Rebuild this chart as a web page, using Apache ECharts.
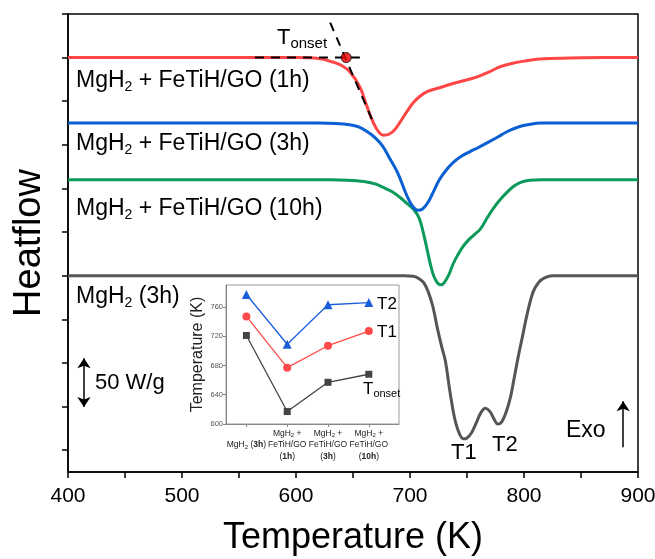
<!DOCTYPE html>
<html>
<head>
<meta charset="utf-8">
<script src="https://cdn.jsdelivr.net/npm/echarts@6/dist/echarts.min.js"></script>
<style>
html, body { margin: 0; padding: 0; background: #fff; }
#chart { width: 655px; height: 559px; }
</style>
</head>
<body>
<div id="chart"></div>
<script>
// DSC traces: [temperature (K), stacked heat flow]
const curve1h = [[400,10],[600,10],[620,9.98],[632,9.9],[640,9.82],[647,9.68],[656,9.33],[662,8.9],[668,8.5],[673,8.28],[677,8.22],[682,8.25],[687,8.36],[691,8.51],[697,8.75],[703,8.97],[709,9.12],[715,9.22],[726,9.31],[741,9.43],[759,9.56],[770,9.68],[779,9.79],[790,9.87],[800,9.92],[814,9.97],[840,9.99],[870,10],[900,10]];
const curve3h = [[400,8.5],[620,8.5],[635,8.49],[647,8.46],[655,8.41],[662,8.31],[670,8.15],[676,7.97],[682,7.7],[689,7.37],[697,6.85],[702,6.6],[707,6.5],[711,6.53],[716,6.69],[721,6.95],[726,7.21],[732,7.43],[738,7.6],[745,7.74],[753,7.85],[760,7.94],[768,8.05],[777,8.18],[785,8.3],[795,8.41],[803,8.46],[815,8.5],[900,8.5]];
const curve10h = [[400,7.2],[630,7.2],[645,7.19],[655,7.17],[662,7.15],[670,7.1],[676,7.03],[684,6.93],[691,6.8],[698,6.64],[703,6.53],[708,6.32],[712,5.95],[715,5.6],[718,5.25],[721,4.98],[724,4.84],[727,4.79],[730,4.84],[734,5.02],[738,5.28],[742,5.48],[746,5.65],[751,5.81],[756,5.93],[762,6.08],[768,6.34],[773,6.54],[779,6.74],[785,6.91],[791,7.05],[797,7.14],[805,7.19],[815,7.2],[900,7.2]];
const curveMgH2 = [[400,5],[695,5],[703,4.99],[708,4.93],[712,4.84],[716,4.63],[720,4.3],[724,3.8],[728,3.35],[731,3.05],[735,2.35],[739,1.75],[743,1.4],[747,1.26],[750,1.28],[754,1.4],[758,1.62],[762,1.85],[766,1.96],[770,1.89],[774,1.7],[777,1.6],[780,1.63],[784,1.85],[788,2.2],[791,2.6],[795,3.15],[799,3.65],[803,4.15],[808,4.63],[813,4.85],[818,4.95],[825,5],[900,5]];

// onset construction on the 1h trace
const onsetBaseline = [[564,10],[656,10]];
const onsetTangent = [[630,10.8],[667,8.56]];
const onsetPoint = [[644,10]];

// 50 W/g scale bar and exo direction arrow
const scaleBar = [[414,3.11],[414,1.99]];
const exoArrow = [[887,1.07],[887,2.12]];

// inset: peak and onset temperatures per sample
const insetCategories = ['MgH2 (3h)', 'MgH2 + FeTiH/GO (1h)', 'MgH2 + FeTiH/GO (3h)', 'MgH2 + FeTiH/GO (10h)'];
const insetT2 = [777, 709, 763, 766];
const insetT1 = [747, 677, 707, 727];
const insetTonset = [721, 617, 657, 668];

const xLabelTicks = [400, 500, 600, 700, 800, 900];
const yTicks = [1, 2, 3, 4, 5, 6, 7, 8, 9, 10, 11];
const insetTicks = [600, 640, 680, 720, 760];
const insetSlots = insetCategories.map((c, i) => i);

const FONT = 'Liberation Sans, Arial, sans-serif';
const chart = echarts.init(document.getElementById('chart'), null, { renderer: 'canvas' });

const subRich = (size, sub, pad) => ({
  n: { fontSize: size, fontFamily: FONT, color: '#000' },
  s: { fontSize: sub, fontFamily: FONT, color: '#000', padding: [pad, 0, 0, 0] },
  b: { fontSize: size, fontFamily: FONT, color: '#000', fontWeight: 'bold' }
});

function insetLabel(i) {
  const m = insetCategories[i].match(/^MgH2( \+ FeTiH\/GO)? \((\w+)\)$/);
  if (!m[1]) return '{n|MgH}{s|2}{n| (}{b|' + m[2] + '}{n|)}';
  return '{n|MgH}{s|2}{n| +}\n{n|FeTiH/GO}\n{n|(}{b|' + m[2] + '}{n|)}';
}

function text(x, y, str, size, sub, pad) {
  return {
    type: 'text', x: x, y: y, z: 50,
    style: { text: str, rich: subRich(size, sub, pad), fontSize: size, fontFamily: FONT, fill: '#000', verticalAlign: 'middle', align: 'left' }
  };
}

const traceLine = (data, color) => ({
  type: 'line', data: data, xAxisIndex: 0, yAxisIndex: 0,
  showSymbol: false, smooth: 0.4,
  lineStyle: { color: color, width: 3 }, z: 3, silent: true
});

const insetLine = (values, symbol, size, color) => ({
  type: 'line', data: values.map((v, i) => [i, v]), xAxisIndex: 1, yAxisIndex: 1, z: 12,
  symbol: symbol, symbolSize: size,
  lineStyle: { color: color, width: 1.3 }, itemStyle: { color: color }
});

const option = {
  animation: false,
  backgroundColor: '#fff',
  grid: [
    { left: 68, right: 17, top: 14, bottom: 87, outerBoundsMode: 'none', containLabel: false, show: true, borderColor: '#000', borderWidth: 1.5 },
    { left: 226, top: 285, width: 173, height: 139, outerBoundsMode: 'none', containLabel: false, show: true, borderColor: '#999', borderWidth: 1, backgroundColor: '#fff', z: 10 }
  ],
  xAxis: [
    {
      gridIndex: 0, type: 'value', min: 400, max: 900, interval: 50,
      name: 'Temperature (K)', nameLocation: 'middle', nameGap: 66, nameMoveOverlap: false,
      nameTextStyle: { fontSize: 36, fontFamily: FONT, color: '#000', verticalAlign: 'middle' },
      axisLine: { lineStyle: { color: '#000', width: 1.5 } },
      axisTick: { length: 6, lineStyle: { color: '#000', width: 1.5 } },
      axisLabel: { customValues: xLabelTicks, fontSize: 21, fontFamily: FONT, color: '#000', margin: 14 },
      splitLine: { show: false }
    },
    {
      gridIndex: 1, type: 'value', min: -0.5, max: 3.74, z: 11,
      axisLine: { onZero: false, lineStyle: { color: '#888', width: 1 } },
      axisTick: { customValues: insetSlots, length: 3, lineStyle: { color: '#888' } },
      axisLabel: {
        customValues: insetSlots, margin: 21, verticalAlign: 'middle', lineHeight: 11.5,
        formatter: (v) => insetLabel(v),
        rich: {
          n: { fontSize: 8.5, fontFamily: FONT, color: '#222', lineHeight: 11.5 },
          s: { fontSize: 6, fontFamily: FONT, color: '#222', lineHeight: 11.5, padding: [4, 0, 0, 0] },
          b: { fontSize: 8.5, fontFamily: FONT, color: '#222', fontWeight: 'bold', lineHeight: 11.5 }
        }
      },
      splitLine: { show: false }
    }
  ],
  yAxis: [
    {
      gridIndex: 0, type: 'value', min: 0.5, max: 11,
      name: 'Heatflow', nameLocation: 'middle', nameGap: 19, nameMoveOverlap: false,
      nameTextStyle: { fontSize: 38, fontFamily: FONT, color: '#000' },
      axisLine: { show: true, onZero: false, lineStyle: { color: '#000', width: 1.5 } },
      axisTick: { show: true, customValues: yTicks, length: 6, lineStyle: { color: '#000', width: 1.5 } },
      axisLabel: { show: false },
      splitLine: { show: false }
    },
    {
      gridIndex: 1, type: 'value', min: 600, max: 790, z: 11,
      name: 'Temperature (K)', nameLocation: 'middle', nameGap: 20, nameMoveOverlap: false,
      nameTextStyle: { fontSize: 16, fontFamily: FONT, color: '#222' },
      axisLine: { show: true, onZero: false, lineStyle: { color: '#888', width: 1 } },
      axisTick: { show: true, length: 3, customValues: insetTicks, lineStyle: { color: '#888' } },
      axisLabel: { customValues: insetTicks, fontSize: 7.5, fontFamily: FONT, color: '#555', margin: 3 },
      splitLine: { show: false }
    }
  ],
  series: [
    traceLine(curveMgH2, '#555555'),
    traceLine(curve10h, '#0b9a5a'),
    traceLine(curve3h, '#0a5fd2'),
    traceLine(curve1h, '#ff4646'),
    {
      type: 'line', data: onsetBaseline, xAxisIndex: 0, yAxisIndex: 0, showSymbol: false, z: 5,
      lineStyle: { color: '#000', width: 2, type: [9, 7] }
    },
    {
      type: 'line', data: onsetTangent, xAxisIndex: 0, yAxisIndex: 0, showSymbol: false, z: 5,
      lineStyle: { color: '#000', width: 2, type: [9, 7] }
    },
    {
      type: 'scatter', data: onsetPoint, xAxisIndex: 0, yAxisIndex: 0, z: 6,
      symbol: 'circle', symbolSize: 10,
      itemStyle: { color: '#ee0000', borderColor: '#000', borderWidth: 1 }
    },
    {
      type: 'lines', coordinateSystem: 'cartesian2d', xAxisIndex: 0, yAxisIndex: 0, z: 6,
      symbol: ['arrow', 'arrow'], symbolSize: 10,
      lineStyle: { color: '#000', width: 1.5, opacity: 1 },
      data: [{ coords: scaleBar }]
    },
    {
      type: 'lines', coordinateSystem: 'cartesian2d', xAxisIndex: 0, yAxisIndex: 0, z: 6,
      symbol: ['none', 'arrow'], symbolSize: 10,
      lineStyle: { color: '#000', width: 1.5, opacity: 1 },
      data: [{ coords: exoArrow }]
    },
    insetLine(insetTonset, 'rect', 7, '#444'),
    insetLine(insetT1, 'circle', 8, '#ff4a4a'),
    insetLine(insetT2, 'triangle', 9, '#1a5fd8')
  ],
  graphic: [
    text(76, 81, '{n|MgH}{s|2}{n| + FeTiH/GO (1h)}', 23, 14, 12),
    text(76, 144, '{n|MgH}{s|2}{n| + FeTiH/GO (3h)}', 23, 14, 12),
    text(76, 209, '{n|MgH}{s|2}{n| + FeTiH/GO (10h)}', 23, 14, 12),
    text(76, 297, '{n|MgH}{s|2}{n| (3h)}', 23, 14, 12),
    text(95, 383, '{n|50 W/g}', 22, 14, 0),
    text(566, 431, '{n|Exo}', 23, 14, 0),
    text(451, 453, '{n|T1}', 22, 14, 0),
    text(492, 445, '{n|T2}', 22, 14, 0),
    text(277, 38, '{n|T}{s|onset}', 22, 15, 12),
    text(377, 304, '{n|T2}', 17, 10, 0),
    text(377, 332, '{n|T1}', 17, 10, 0),
    text(363, 389, '{n|T}{s|onset}', 17, 11, 9)
  ]
};

chart.setOption(option);
</script>
</body>
</html>
